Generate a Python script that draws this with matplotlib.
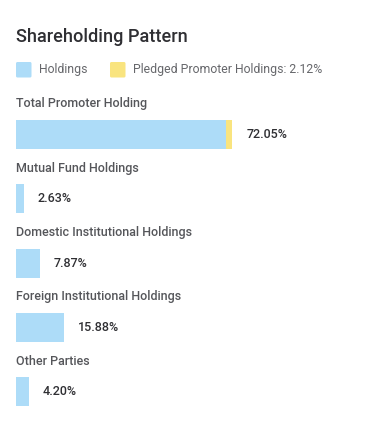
import matplotlib.pyplot as plt
from matplotlib.patches import FancyBboxPatch

categories = ["Total Promoter Holding", "Mutual Fund Holdings",
              "Domestic Institutional Holdings", "Foreign Institutional Holdings",
              "Other Parties"]
holdings = [72.05, 2.63, 7.87, 15.88, 4.20]
pledged = [2.12, 0, 0, 0, 0]
value_labels = ["72.05%", "2.63%", "7.87%", "15.88%", "4.20%"]

blue = "#ADDCF8"
yellow = "#F9E47F"
dark = "#2f2f33"
grey = "#55565a"

plt.rcParams['font.family'] = ['Roboto', 'DejaVu Sans']

W, H = 390, 429
fig = plt.figure(figsize=(W / 100, H / 100), dpi=100)
fig.patch.set_facecolor("white")

# title and legend in pixel coordinates
ov = fig.add_axes([0, 0, 1, 1])
ov.set_xlim(0, W)
ov.set_ylim(H, 0)
ov.axis("off")
ov.text(16, 37, "Shareholding Pattern", fontsize=13.1, color=dark,
        va="center", ha="left", fontweight="medium")
for x0, col, lab in [(16, blue, "Holdings"),
                     (110, yellow, "Pledged Promoter Holdings: 2.12%")]:
    ov.add_patch(FancyBboxPatch((x0 + 1.5, 63.5), 12.5, 12.5,
                                boxstyle="round,pad=1.5", fc=col, ec="none"))
    ov.text(x0 + 23, 70, lab, fontsize=8.8, color="#66676b", va="center", ha="left")

# bars: 3 px per percent starting at x=16
ax = fig.add_axes([16 / W, 0, 300 / W, 1])
ax.set_xlim(0, 100)
ax.set_ylim(H, 0)
ax.axis("off")

row0, step, bar_h = 134.5, 64.3, 29
for i, cat in enumerate(categories):
    yc = row0 + i * step
    base = holdings[i] - pledged[i]
    ax.barh(yc, base, height=bar_h, color=blue, linewidth=0)
    if pledged[i] > 0:
        ax.barh(yc, pledged[i], left=base, height=bar_h, color=yellow, linewidth=0)
    ax.text(0, yc - 30.5, cat, fontsize=9, color=grey, va="center",
            ha="left", fontweight="medium")
    ax.annotate(value_labels[i], (holdings[i], yc), xytext=(14, 0),
                textcoords="offset pixels", fontsize=9, color=dark,
                va="center", ha="left", fontweight="medium")

fig.savefig("out.png", dpi=100)
